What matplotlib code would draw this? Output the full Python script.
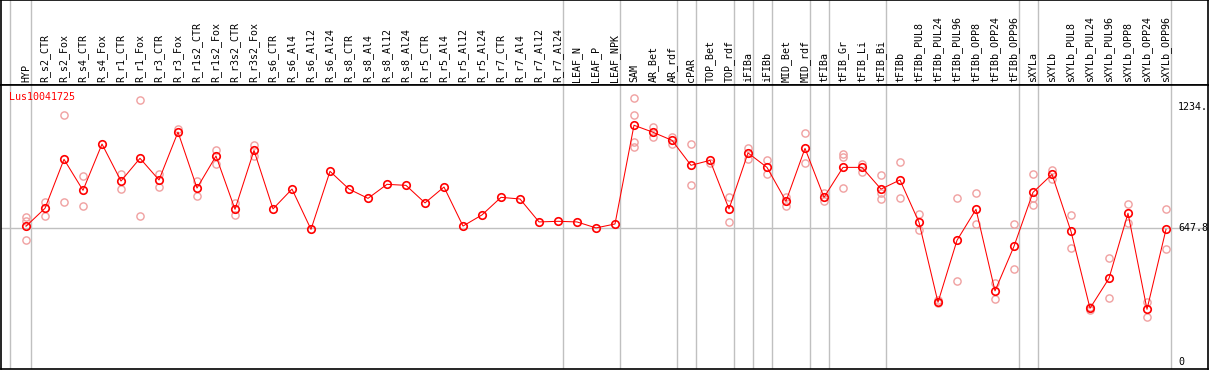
import numpy as np
import matplotlib

matplotlib.use("Agg")
import matplotlib.pyplot as plt

# categorias (eixo x)
labels = [
    "HYP", "R_s2_CTR", "R_s2_Fox", "R_s4_CTR", "R_s4_Fox", "R_r1_CTR", "R_r1_Fox",
    "R_r3_CTR", "R_r3_Fox", "R_r1s2_CTR", "R_r1s2_Fox", "R_r3s2_CTR", "R_r3s2_Fox",
    "R_s6_CTR", "R_s6_Al4", "R_s6_Al12", "R_s6_Al24", "R_s8_CTR", "R_s8_Al4",
    "R_s8_Al12", "R_s8_Al24", "R_r5_CTR", "R_r5_Al4", "R_r5_Al12", "R_r5_Al24",
    "R_r7_CTR", "R_r7_Al4", "R_r7_Al12", "R_r7_Al24", "LEAF_N", "LEAF_P", "LEAF_NPK",
    "SAM", "AR_Bet", "AR_rdf", "cPAR", "TOP_Bet", "TOP_rdf", "iFIBa", "iFIBb",
    "MID_Bet", "MID_rdf", "tFIBa", "tFIB_Gr", "tFIB_Li", "tFIB_Bi", "tFIBb",
    "tFIBb_PUL8", "tFIBb_PUL24", "tFIBb_PUL96", "tFIBb_OPP8", "tFIBb_OPP24",
    "tFIBb_OPP96", "sXYLa", "sXYLb", "sXYLb_PUL8", "sXYLb_PUL24", "sXYLb_PUL96",
    "sXYLb_OPP8", "sXYLb_OPP24", "sXYLb_OPP96",
]

# media por categoria
mean_vals = [
    657, 744, 981, 831, 1055, 876, 986, 881, 1113, 842, 997, 739, 1024,
    741, 837, 642, 923, 837, 792, 860, 855, 770, 847, 658, 712,
    797, 789, 678, 681, 678, 649, 668,
    1146, 1112, 1073, 952, 976, 741, 1012, 942, 778, 1034, 797, 942, 942, 837, 881,
    676, 289, 589, 739, 344, 560, 821, 908, 632, 260, 405, 720, 255, 642,
]

N = None
# replicatas (None = sem ponto)
rep_a = [703, 776, 1194, 902, N, 910, 1266, 910, 1126, 876, 1026, 771, 1050,
         N, N, N, N, N, N, N, N, N, N, N, N, N, N, N, N, N, N, N,
         1276, 1137, 1091, 1055, 965, 797, 1036, 976, 800, 1107, 816, 1007, 958, 904, 966,
         715, 300, 792, 816, 384, 666, 908, 929, 710, 266, 502, 763, 292, 739]
rep_b = [684, 708, 773, 753, N, 836, 705, 849, N, 802, 960, 713, 997,
         N, N, N, N, N, N, N, N, N, N, N, N, N, N, N, N, N, N, N,
         1194, 1088, 1054, 855, N, 676, 981, 908, 755, 962, 781, 994, 921, 816, 794,
         639, 285, 392, 666, 306, 452, 792, 886, 550, 252, 308, 674, 219, 545]
rep_c = [589, N, N, N, N, N, N, N, N, N, N, N, N,
         N, N, N, N, N, N, N, N, N, N, N, N, N, N, N, N, N, N, N,
         1066, N, N, N, N, N, N, N, N, N, N, 842, N, 790, N,
         N, N, N, N, N, N, 758, N, N, N, N, N, N, N]
rep_d = [N] * 32 + [1042] + [N] * 28

# indices apos os quais ha linha cinza separando grupos
group_ends = [0, 28, 31, 34, 35, 37, 38, 39, 41, 42, 45, 52, 53, 60]

series_name = "Lus10041725"
ref_value = 647.8
y_labels = ["1234.", "647.8", "0"]
y_label_vals = [1234, 647.8, 0]

W, H = 1209, 370
fig = plt.figure(figsize=(W / 100, H / 100), dpi=100)

x = np.arange(len(labels))
xlim = ((1 - 26) / 19, (1208 - 26) / 19)
grey = "#c0c0c0"

ax_head = fig.add_axes([1 / W, (H - 85) / H, 1207 / W, 85 / H])
ax = fig.add_axes([1 / W, (H - 369) / H, 1207 / W, 284 / H], sharex=ax_head)

for a in (ax_head, ax):
    a.set_xlim(*xlim)
    for s in a.spines.values():
        s.set_color("black")
        s.set_linewidth(1.2)
    a.tick_params(left=False, bottom=False, labelleft=False, labelbottom=False)
    a.axvline(-0.82, color=grey, lw=1)
    for g in group_ends:
        a.axvline(g + 0.25, color=grey, lw=1)

ax_head.set_ylim(0, 1)
for xi, lab in zip(x, labels):
    ax_head.text(xi, 0.03, lab, rotation=90, ha="center", va="bottom",
                 family="DejaVu Sans Mono", fontsize=7.2, color="black")

ax.set_ylim((362 - 369) / 0.2066, (362 - 85) / 0.2066)
ax.axhline(ref_value, color=grey, lw=1)

# replicatas
for rep in (rep_a, rep_b, rep_c, rep_d):
    r = np.array([np.nan if v is None else v for v in rep], dtype=float)
    ax.plot(x, r, ls="none", marker="o", ms=5.2, mfc="none", mec="#f0a0a0", mew=1.0)

# media
ax.plot(x, mean_vals, color="red", lw=0.75, marker="o", ms=5.4, mfc="none",
        mec="red", mew=1.2)

ax.text(8 / 1207, 1 - 12 / 284, series_name, transform=ax.transAxes, color="red",
        family="DejaVu Sans Mono", fontsize=7.2, ha="left", va="center")

for lab, v in zip(y_labels, y_label_vals):
    ax.text((1178 - 26) / 19, v, lab, family="DejaVu Sans Mono", fontsize=7.2,
            ha="left", va="center", color="black", clip_on=True)

fig.savefig("out.png", dpi=100)
plt.close(fig)
